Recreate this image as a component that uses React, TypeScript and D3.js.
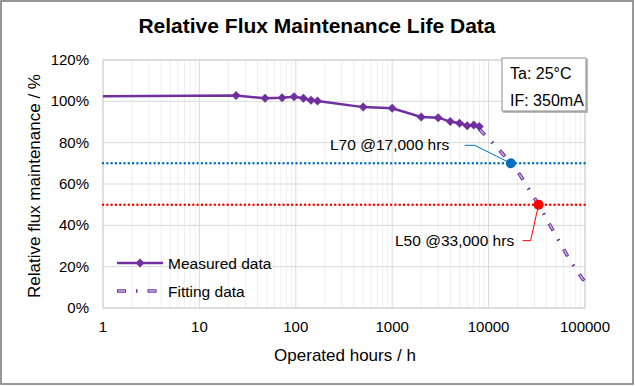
import React from 'react';
import * as d3 from 'd3';

// measured lumen maintenance (hours, %)
const measuredHours = [1, 24, 48, 72, 96, 120, 144, 168, 500, 1000, 2000, 3000, 4000, 5000, 6000, 7000, 8000];
const measuredValues = [102.5, 102.8, 101.5, 101.7, 102.2, 101.5, 100.5, 100.2, 97.2, 96.6, 92.4, 92.1, 90.2, 89.4, 88.2, 88.6, 87.8];

// fitted projection
const fittingHours = [8000, 10000, 12000, 15000, 17000, 20000, 25000, 30000, 33000, 40000, 50000, 60000, 70000, 80000, 90000, 100000];
const fittingValues = [86.5, 82, 78, 73, 70, 66, 59, 53, 50, 43, 35, 28.5, 23, 19, 15.5, 12.5];

const xTicks = [1, 10, 100, 1000, 10000, 100000];
const yTicks = [0, 20, 40, 60, 80, 100, 120];

const l70 = { hours: 17000, value: 70, label: 'L70 @17,000 hrs' };
const l50 = { hours: 33000, value: 50, label: 'L50 @33,000 hrs' };
const conditions = ['Ta: 25°C', 'IF: 350mA'];

const FONT = '"Liberation Sans", Arial, sans-serif';
const PURPLE = '#7030A0';
const BLUE = '#0070C0';
const RED = '#FF0000';

const diamond = (cx: number, cy: number, r: number) =>
  `M${cx},${cy - r}L${cx + r},${cy}L${cx},${cy + r}L${cx - r},${cy}Z`;

export default function App() {
  const width = 635;
  const height = 386;

  const x = d3.scaleLog().domain([1, 100000]).range([103, 585]);
  const y = d3.scaleLinear().domain([0, 120]).range([308, 60]);

  const measuredPath = d3.line<[number, number]>()
    .x(d => x(d[0]))
    .y(d => y(d[1]))(measuredHours.map((h, i) => [h, measuredValues[i]]));

  const fittingPath = d3.line<[number, number]>()
    .curve(d3.curveMonotoneX)
    .x(d => x(d[0]))
    .y(d => y(d[1]))(fittingHours.map((h, i) => [h, fittingValues[i]]));

  const minorTicks = x.ticks().filter(t => !xTicks.includes(t));
  const [x0, x1] = x.range();
  const [yBottom, yTop] = y.range();

  const p70 = [x(l70.hours), y(l70.value)];
  const p50 = [x(l50.hours), y(l50.value)];

  // fitting line dash style: outlined long dashes with small dots
  const fitDash = '8 10 1.5 10';
  const fitInner = '6 23.5';

  return (
    <svg width={width} height={height} style={{ position: 'absolute', left: 0, top: 0 }} fontFamily={FONT}>
      <rect x={0} y={0} width={width} height={height} fill="#fff" />
      <rect x={1} y={1} width={width - 3} height={height - 3} fill="none" stroke="#767676" strokeWidth={1.5} />

      <text x={317} y={33} textAnchor="middle" fontSize={21} fontWeight="bold" fill="#000">
        Relative Flux Maintenance Life Data
      </text>

      {/* gridlines */}
      {minorTicks.map(t => (
        <line key={'m' + t} x1={x(t)} x2={x(t)} y1={yTop} y2={yBottom} stroke="#efefef" strokeWidth={1} />
      ))}
      {xTicks.map(t => (
        <line key={'x' + t} x1={x(t)} x2={x(t)} y1={yTop} y2={yBottom} stroke="#d9d9d9" strokeWidth={1} />
      ))}
      {yTicks.map(t => (
        <line key={'y' + t} x1={x0} x2={x1} y1={y(t)} y2={y(t)} stroke="#d9d9d9" strokeWidth={1} />
      ))}
      <rect x={x0} y={yTop} width={x1 - x0} height={yBottom - yTop} fill="none" stroke="#d0d0d0" strokeWidth={1} />

      {/* tick labels */}
      {yTicks.map(t => (
        <text key={'yl' + t} x={89} y={y(t) + 5} textAnchor="end" fontSize={15} fill="#000">{t}%</text>
      ))}
      {xTicks.map(t => (
        <text key={'xl' + t} x={x(t)} y={332} textAnchor="middle" fontSize={15} fill="#000">{t}</text>
      ))}

      <text x={345} y={361} textAnchor="middle" fontSize={17} fill="#000">Operated hours / h</text>
      <text transform="translate(40,186) rotate(-90)" textAnchor="middle" fontSize={17} fill="#000">
        Relative flux maintenance / %
      </text>

      {/* L70 / L50 reference lines */}
      <line x1={x0} x2={x1} y1={y(l70.value)} y2={y(l70.value)} stroke={BLUE} strokeWidth={2.5}
        strokeLinecap="round" strokeDasharray="0 4.3" />
      <line x1={x0} x2={x1} y1={y(l50.value)} y2={y(l50.value)} stroke={RED} strokeWidth={2.5}
        strokeLinecap="round" strokeDasharray="0 4.3" />

      {/* measured */}
      <path d={measuredPath || ''} fill="none" stroke={PURPLE} strokeWidth={2.5} />
      {measuredHours.map((h, i) => h > 1 && (
        <path key={'d' + h} d={diamond(x(h), y(measuredValues[i]), 4.5)} fill={PURPLE} />
      ))}

      {/* fitting */}
      <path d={fittingPath || ''} fill="none" stroke={PURPLE} strokeWidth={3.5} strokeDasharray={fitDash} />
      <path d={fittingPath || ''} fill="none" stroke="#c9b3dd" strokeWidth={1.5} strokeDasharray={fitInner}
        strokeDashoffset={-1} />

      {/* annotations */}
      <polyline points={`${p70[0] - 46},${p70[1] - 18} ${p70[0] - 36},${p70[1] - 18} ${p70[0]},${p70[1]}`}
        fill="none" stroke={BLUE} strokeWidth={1} />
      <circle cx={p70[0]} cy={p70[1]} r={5} fill={BLUE} />
      <text x={330} y={y(l70.value) - 13} fontSize={15.5} fill="#000">{l70.label}</text>

      <polyline points={`${p50[0] - 16},${p50[1] + 36} ${p50[0] - 8},${p50[1] + 36} ${p50[0]},${p50[1]}`}
        fill="none" stroke={RED} strokeWidth={1} />
      <circle cx={p50[0]} cy={p50[1]} r={5} fill={RED} />
      <text x={395} y={y(l50.value) + 41} fontSize={15.5} fill="#000">{l50.label}</text>

      {/* conditions box */}
      <rect x={503} y={59} width={85} height={54} fill="#bbb" />
      <rect x={502} y={58} width={84} height={53} fill="#fff" stroke="#8c8c8c" strokeWidth={1} />
      {conditions.map((c, i) => (
        <text key={c} x={510} y={79 + i * 27} fontSize={16} fill="#000">{c}</text>
      ))}

      {/* legend */}
      <line x1={117} x2={163} y1={263} y2={263} stroke={PURPLE} strokeWidth={2.5} />
      <path d={diamond(140, 263, 4.5)} fill={PURPLE} />
      <text x={168} y={268.5} fontSize={15.5} fill="#000">Measured data</text>
      <line x1={117} x2={163} y1={291} y2={291} stroke={PURPLE} strokeWidth={3.5} strokeDasharray="9 10 1.5 10" />
      <line x1={118} x2={163} y1={291} y2={291} stroke="#c9b3dd" strokeWidth={1.5} strokeDasharray="7 23.5" />
      <text x={168} y={296.5} fontSize={15.5} fill="#000">Fitting data</text>
    </svg>
  );
}
